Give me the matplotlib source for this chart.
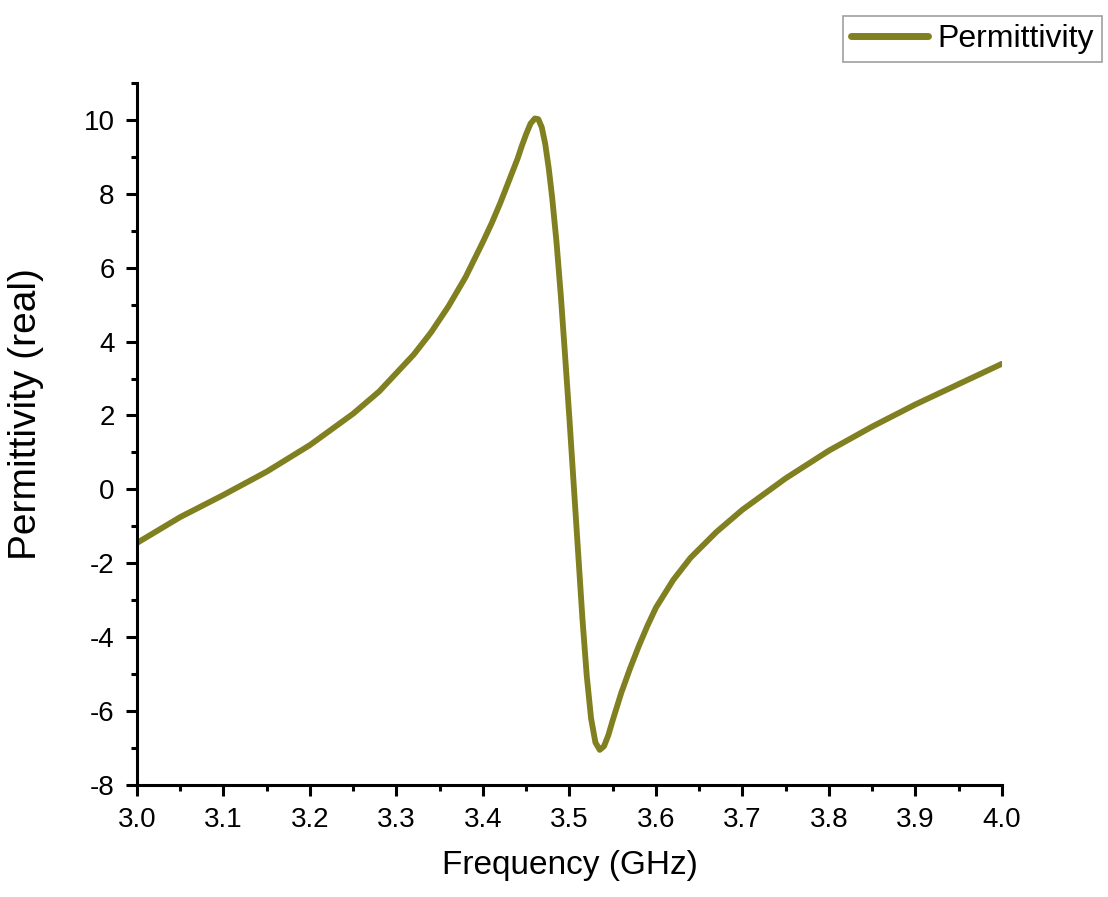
import numpy as np
import matplotlib
matplotlib.use("Agg")
import matplotlib.pyplot as plt
from matplotlib.ticker import MultipleLocator, FormatStrFormatter

# values
freq_ghz = [
    3.00, 3.05, 3.10, 3.15, 3.20, 3.25, 3.28, 3.30, 3.32, 3.34,
    3.36, 3.38, 3.40, 3.41, 3.42, 3.43, 3.44, 3.445, 3.45, 3.455,
    3.46, 3.464, 3.468, 3.472, 3.476, 3.48, 3.485, 3.49, 3.495, 3.50,
    3.505, 3.51, 3.515, 3.52, 3.525, 3.53, 3.535, 3.54, 3.545, 3.55,
    3.56, 3.57, 3.58, 3.59, 3.60, 3.62, 3.64, 3.67, 3.70, 3.75,
    3.80, 3.85, 3.90, 3.95, 4.00,
]
permittivity_real = [
    -1.45, -0.75, -0.15, 0.48, 1.20, 2.05, 2.65, 3.15, 3.65, 4.25,
    4.95, 5.75, 6.70, 7.20, 7.75, 8.35, 8.95, 9.30, 9.62, 9.90,
    10.04, 10.02, 9.80, 9.35, 8.70, 7.90, 6.70, 5.25, 3.60, 1.90,
    0.10, -1.70, -3.50, -5.05, -6.20, -6.85, -7.05, -6.95, -6.65, -6.25,
    -5.50, -4.85, -4.25, -3.70, -3.20, -2.45, -1.85, -1.15, -0.55, 0.30,
    1.05, 1.70, 2.30, 2.85, 3.40,
]

LINE_COLOR = "#808020"

plt.rcParams["font.family"] = ["Liberation Sans", "DejaVu Sans"]
plt.rcParams["axes.unicode_minus"] = False

fig = plt.figure(figsize=(11.08, 8.97), dpi=100)
ax = fig.add_axes([0.1236, 0.1249, 0.7807, 0.7826])

ax.plot(freq_ghz, permittivity_real, color=LINE_COLOR, lw=4.2,
        solid_joinstyle="round", solid_capstyle="round", label="Permittivity")

ax.set_xlim(3.0, 4.0)
ax.set_ylim(-8, 11)
ax.xaxis.set_major_locator(MultipleLocator(0.1))
ax.xaxis.set_minor_locator(MultipleLocator(0.05))
ax.xaxis.set_major_formatter(FormatStrFormatter("%.1f"))
ax.yaxis.set_major_locator(MultipleLocator(2))
ax.yaxis.set_minor_locator(MultipleLocator(1))

for side in ["top", "right"]:
    ax.spines[side].set_visible(False)
for side in ["left", "bottom"]:
    ax.spines[side].set_linewidth(2.2)

ax.tick_params(which="major", direction="out", length=8, width=2.2,
               labelsize=20, colors="black", pad=8)
ax.tick_params(which="minor", direction="out", length=4.5, width=2.2)

ax.set_xlabel("Frequency (GHz)", fontsize=24, labelpad=12)
ax.set_ylabel("Permittivity (real)", fontsize=28)
ax.yaxis.set_label_coords(-0.107, 0.528)

leg = fig.legend(loc="upper left", bbox_to_anchor=(0.761, 0.982),
                 borderaxespad=0, fontsize=23, frameon=True, fancybox=False,
                 handlelength=2.4, borderpad=0.25, handletextpad=0.3)
leg.get_frame().set_edgecolor("#888888")
leg.get_frame().set_linewidth(1.2)
for line in leg.get_lines():
    line.set_linewidth(5)

fig.savefig("out.png", dpi=100)
